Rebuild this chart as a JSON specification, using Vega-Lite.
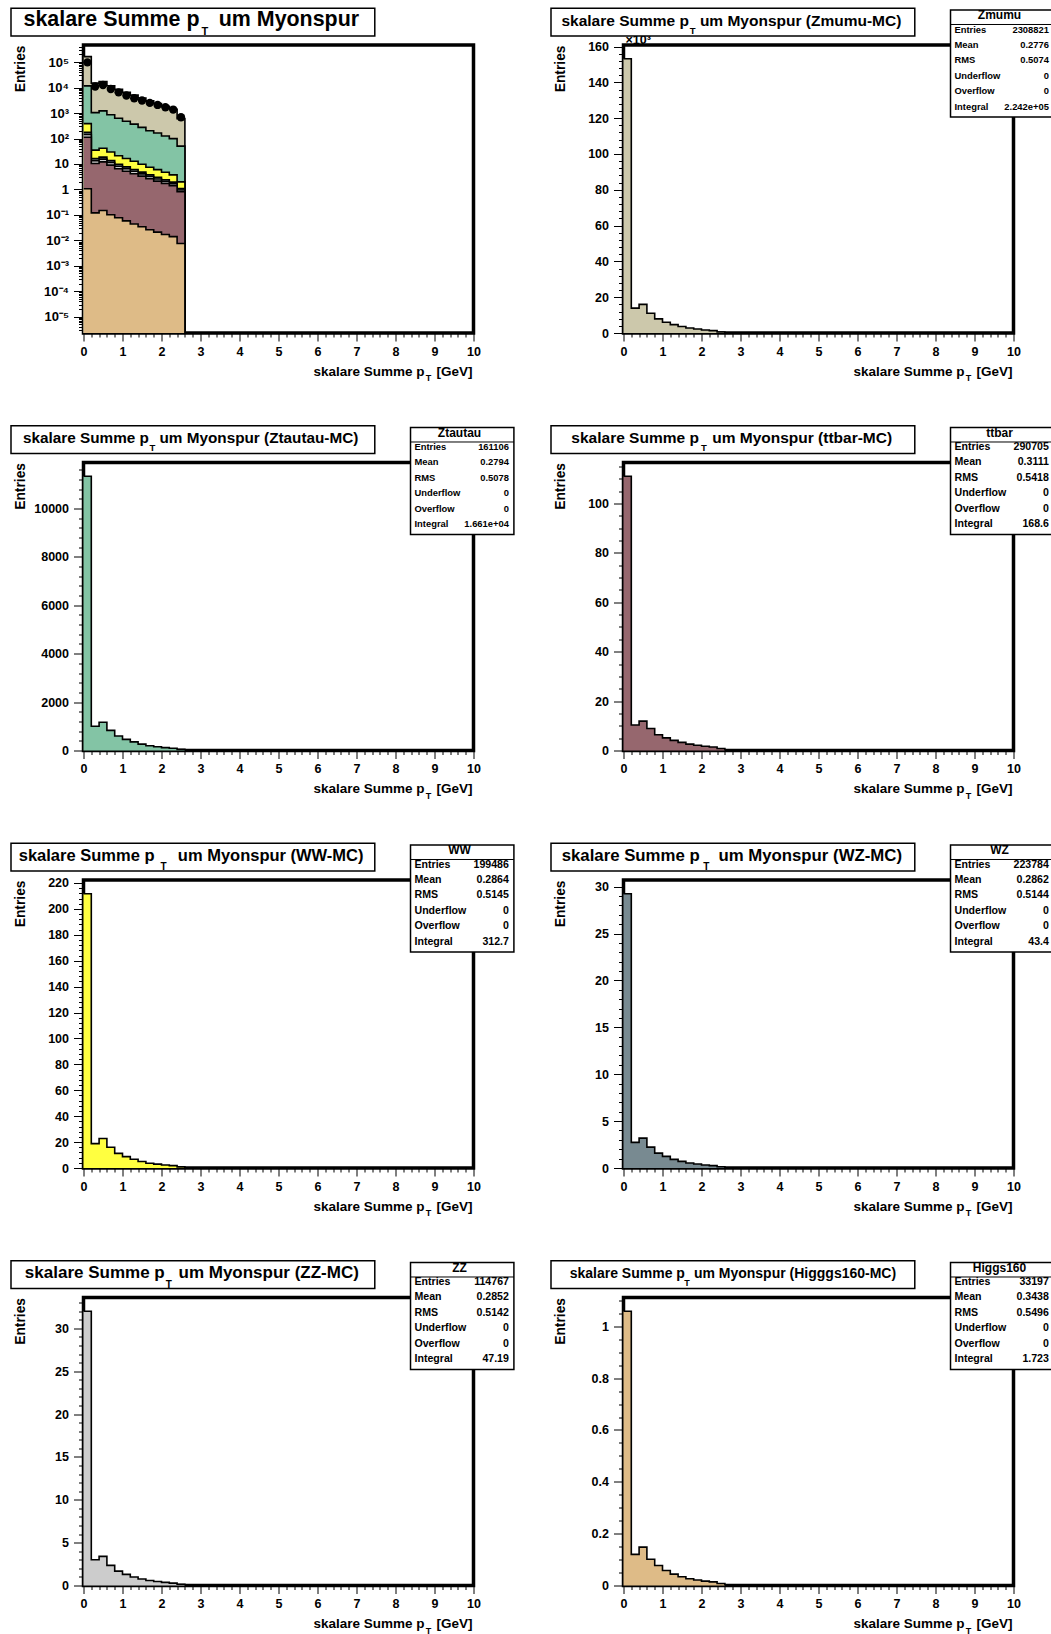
{
"$schema":"https://vega.github.io/schema/vega-lite/v6.json",
"background":"white",
"padding":{"left":7.5,"top":5,"right":0,"bottom":0},
"columns":2,
"spacing":{"row":129.5,"column":150},
"bounds":"flush",
"config":{
 "view":{"stroke":"black","strokeWidth":3.5},
 "axis":{"domain":false,"grid":false,"tickColor":"black","tickWidth":1,"labelColor":"black","labelFont":"Liberation Sans","labelFontWeight":"bold","labelFontSize":12.5,"labelOverlap":false,"labelFlush":false,"labelBound":false,"titleColor":"black","titleFont":"Liberation Sans","titleFontWeight":"bold","titleFontSize":13.8},
 "text":{"font":"Liberation Sans","fontWeight":"bold","color":"black","baseline":"alphabetic"}
},
"datasets":{
 "h":[
  {"p":"Zmumu","lo":0,"n":153200},{"p":"Zmumu","lo":0.2,"n":13900},{"p":"Zmumu","lo":0.4,"n":16000},{"p":"Zmumu","lo":0.6,"n":11000},{"p":"Zmumu","lo":0.8,"n":7900},{"p":"Zmumu","lo":1,"n":6000},{"p":"Zmumu","lo":1.2,"n":4700},{"p":"Zmumu","lo":1.4,"n":3600},{"p":"Zmumu","lo":1.6,"n":2800},{"p":"Zmumu","lo":1.8,"n":2200},{"p":"Zmumu","lo":2,"n":1700},{"p":"Zmumu","lo":2.2,"n":1300},{"p":"Zmumu","lo":2.4,"n":550},{"p":"Zmumu","lo":2.6,"n":0},
  {"p":"Ztautau","lo":0,"n":11330},{"p":"Ztautau","lo":0.2,"n":1000},{"p":"Ztautau","lo":0.4,"n":1170},{"p":"Ztautau","lo":0.6,"n":830},{"p":"Ztautau","lo":0.8,"n":600},{"p":"Ztautau","lo":1,"n":460},{"p":"Ztautau","lo":1.2,"n":355},{"p":"Ztautau","lo":1.4,"n":265},{"p":"Ztautau","lo":1.6,"n":195},{"p":"Ztautau","lo":1.8,"n":158},{"p":"Ztautau","lo":2,"n":120},{"p":"Ztautau","lo":2.2,"n":95},{"p":"Ztautau","lo":2.4,"n":48},{"p":"Ztautau","lo":2.6,"n":0},
  {"p":"ttbar","lo":0,"n":111.0},{"p":"ttbar","lo":0.2,"n":10.3},{"p":"ttbar","lo":0.4,"n":11.9},{"p":"ttbar","lo":0.6,"n":8.9},{"p":"ttbar","lo":0.8,"n":6.4},{"p":"ttbar","lo":1,"n":5.1},{"p":"ttbar","lo":1.2,"n":4.1},{"p":"ttbar","lo":1.4,"n":3.3},{"p":"ttbar","lo":1.6,"n":2.6},{"p":"ttbar","lo":1.8,"n":2.1},{"p":"ttbar","lo":2,"n":1.7},{"p":"ttbar","lo":2.2,"n":1.4},{"p":"ttbar","lo":2.4,"n":0.8},{"p":"ttbar","lo":2.6,"n":0},
  {"p":"WW","lo":0,"n":211.7},{"p":"WW","lo":0.2,"n":18.8},{"p":"WW","lo":0.4,"n":22.8},{"p":"WW","lo":0.6,"n":16.0},{"p":"WW","lo":0.8,"n":11.3},{"p":"WW","lo":1,"n":8.8},{"p":"WW","lo":1.2,"n":6.7},{"p":"WW","lo":1.4,"n":5.0},{"p":"WW","lo":1.6,"n":3.7},{"p":"WW","lo":1.8,"n":3.0},{"p":"WW","lo":2,"n":2.3},{"p":"WW","lo":2.2,"n":1.8},{"p":"WW","lo":2.4,"n":0.9},{"p":"WW","lo":2.6,"n":0},
  {"p":"WZ","lo":0,"n":29.25},{"p":"WZ","lo":0.2,"n":2.73},{"p":"WZ","lo":0.4,"n":3.19},{"p":"WZ","lo":0.6,"n":2.23},{"p":"WZ","lo":0.8,"n":1.59},{"p":"WZ","lo":1,"n":1.24},{"p":"WZ","lo":1.2,"n":0.92},{"p":"WZ","lo":1.4,"n":0.71},{"p":"WZ","lo":1.6,"n":0.53},{"p":"WZ","lo":1.8,"n":0.43},{"p":"WZ","lo":2,"n":0.32},{"p":"WZ","lo":2.2,"n":0.25},{"p":"WZ","lo":2.4,"n":0.13},{"p":"WZ","lo":2.6,"n":0},
  {"p":"ZZ","lo":0,"n":32.0},{"p":"ZZ","lo":0.2,"n":3.0},{"p":"ZZ","lo":0.4,"n":3.4},{"p":"ZZ","lo":0.6,"n":2.35},{"p":"ZZ","lo":0.8,"n":1.68},{"p":"ZZ","lo":1,"n":1.3},{"p":"ZZ","lo":1.2,"n":1.0},{"p":"ZZ","lo":1.4,"n":0.75},{"p":"ZZ","lo":1.6,"n":0.58},{"p":"ZZ","lo":1.8,"n":0.46},{"p":"ZZ","lo":2,"n":0.36},{"p":"ZZ","lo":2.2,"n":0.28},{"p":"ZZ","lo":2.4,"n":0.14},{"p":"ZZ","lo":2.6,"n":0},
  {"p":"Higgs160","lo":0,"n":1.058},{"p":"Higgs160","lo":0.2,"n":0.12},{"p":"Higgs160","lo":0.4,"n":0.148},{"p":"Higgs160","lo":0.6,"n":0.101},{"p":"Higgs160","lo":0.8,"n":0.077},{"p":"Higgs160","lo":1,"n":0.058},{"p":"Higgs160","lo":1.2,"n":0.044},{"p":"Higgs160","lo":1.4,"n":0.034},{"p":"Higgs160","lo":1.6,"n":0.026},{"p":"Higgs160","lo":1.8,"n":0.021},{"p":"Higgs160","lo":2,"n":0.017},{"p":"Higgs160","lo":2.2,"n":0.014},{"p":"Higgs160","lo":2.4,"n":0.0075},{"p":"Higgs160","lo":2.6,"n":0}
 ],
 "d":[
  {"pt":0.1,"n":98000},{"pt":0.3,"n":11000},{"pt":0.5,"n":12600},{"pt":0.7,"n":8800},{"pt":0.9,"n":6500},{"pt":1.1,"n":4900},{"pt":1.3,"n":3800},{"pt":1.5,"n":3100},{"pt":1.7,"n":2500},{"pt":1.9,"n":2080},{"pt":2.1,"n":1690},{"pt":2.3,"n":1370},{"pt":2.5,"n":684}
 ],
 "s":[
  {"p":"Stack","t2":"um Myonspur","v":""},
  {"p":"Zmumu","t2":"um Myonspur (Zmumu-MC)","v":"2308821\n0.2776\n0.5074\n0\n0\n2.242e+05"},
  {"p":"Ztautau","t2":"um Myonspur (Ztautau-MC)","v":"161106\n0.2794\n0.5078\n0\n0\n1.661e+04"},
  {"p":"ttbar","t2":"um Myonspur (ttbar-MC)","v":"290705\n0.3111\n0.5418\n0\n0\n168.6"},
  {"p":"WW","t2":"um Myonspur (WW-MC)","v":"199486\n0.2864\n0.5145\n0\n0\n312.7"},
  {"p":"WZ","t2":"um Myonspur (WZ-MC)","v":"223784\n0.2862\n0.5144\n0\n0\n43.4"},
  {"p":"ZZ","t2":"um Myonspur (ZZ-MC)","v":"114767\n0.2852\n0.5142\n0\n0\n47.19"},
  {"p":"Higgs160","t2":"um Myonspur (Higggs160-MC)","v":"33197\n0.3438\n0.5496\n0\n0\n1.723"}
 ]
},
"concat":[
 {
  "width":390,"height":288,
  "layer":[
   {"data":{"name":"h"},"transform":[{"filter":{"field":"p","oneOf":["Zmumu","Ztautau","WW","WZ","ZZ","ttbar","Higgs160"]}},{"aggregate":[{"op":"sum","field":"n","as":"s"}],"groupby":["lo"]}],"mark":{"type":"area","interpolate":"step-after","color":"#ccc8ab","fillOpacity":1,"invalid":"show","clip":true,"line":{"color":"black","strokeWidth":1.6}},
    "encoding":{
     "x":{"field":"lo","type":"quantitative","scale":{"domain":[0,10],"nice":false,"zero":false},"axis":{"title":null,"values":[0,0.2,0.4,0.6,0.8,1,1.2,1.4,1.6,1.8,2,2.2,2.4,2.6,2.8,3,3.2,3.4,3.6,3.8,4,4.2,4.4,4.6,4.8,5,5.2,5.4,5.6,5.8,6,6.2,6.4,6.6,6.8,7,7.2,7.4,7.6,7.8,8,8.2,8.4,8.6,8.8,9,9.2,9.4,9.6,9.8,10],"labelExpr":"abs(datum.value-round(datum.value))<0.001?format(round(datum.value),'d'):''","tickSize":{"condition":{"test":"abs(datum.value-round(datum.value))<0.001","value":8},"value":4},"labelPadding":4}},
     "y":{"field":"s","type":"quantitative","scale":{"type":"log","domain":[2.3e-6,470000],"nice":false,"clamp":true},"axis":{"title":"Entries","titleX":-63,"titleY":0,"titleAngle":270,"titleAlign":"right","titleBaseline":"middle","labelPadding":5,"labelFontSize":13,"tickCount":100,"labelExpr":"abs(log(datum.value)/LN10-round(log(datum.value)/LN10))>0.01?'':round(log(datum.value)/LN10)==0?'1':round(log(datum.value)/LN10)==1?'10':'10'+replace(replace(replace(replace(replace(replace(''+round(log(datum.value)/LN10),'-','⁻'),'1','¹'),'2','²'),'3','³'),'4','⁴'),'5','⁵')","tickSize":{"condition":{"test":"abs(log(datum.value)/LN10-round(log(datum.value)/LN10))<0.01","value":10},"value":5}}}
    }},
   {"data":{"name":"h"},"transform":[{"filter":{"field":"p","oneOf":["Ztautau","WW","WZ","ZZ","ttbar","Higgs160"]}},{"aggregate":[{"op":"sum","field":"n","as":"s"}],"groupby":["lo"]}],"mark":{"type":"area","interpolate":"step-after","color":"#83c4a5","fillOpacity":1,"invalid":"show","clip":true,"line":{"color":"black","strokeWidth":1.6}},
    "encoding":{"x":{"field":"lo","type":"quantitative","scale":{"domain":[0,10],"nice":false,"zero":false},"axis":null},"y":{"field":"s","type":"quantitative","scale":{"type":"log","domain":[2.3e-6,470000],"nice":false,"clamp":true},"axis":null}}},
   {"data":{"name":"h"},"transform":[{"filter":{"field":"p","oneOf":["WW","WZ","ZZ","ttbar","Higgs160"]}},{"aggregate":[{"op":"sum","field":"n","as":"s"}],"groupby":["lo"]}],"mark":{"type":"area","interpolate":"step-after","color":"#ffff40","fillOpacity":1,"invalid":"show","clip":true,"line":{"color":"black","strokeWidth":1.6}},
    "encoding":{"x":{"field":"lo","type":"quantitative","scale":{"domain":[0,10],"nice":false,"zero":false},"axis":null},"y":{"field":"s","type":"quantitative","scale":{"type":"log","domain":[2.3e-6,470000],"nice":false,"clamp":true},"axis":null}}},
   {"data":{"name":"h"},"transform":[{"filter":{"field":"p","oneOf":["WZ","ZZ","ttbar","Higgs160"]}},{"aggregate":[{"op":"sum","field":"n","as":"s"}],"groupby":["lo"]}],"mark":{"type":"area","interpolate":"step-after","color":"#788a91","fillOpacity":1,"invalid":"show","clip":true,"line":{"color":"black","strokeWidth":1.6}},
    "encoding":{"x":{"field":"lo","type":"quantitative","scale":{"domain":[0,10],"nice":false,"zero":false},"axis":null},"y":{"field":"s","type":"quantitative","scale":{"type":"log","domain":[2.3e-6,470000],"nice":false,"clamp":true},"axis":null}}},
   {"data":{"name":"h"},"transform":[{"filter":{"field":"p","oneOf":["ZZ","ttbar","Higgs160"]}},{"aggregate":[{"op":"sum","field":"n","as":"s"}],"groupby":["lo"]}],"mark":{"type":"area","interpolate":"step-after","color":"#cccccc","fillOpacity":1,"invalid":"show","clip":true,"line":{"color":"black","strokeWidth":1.6}},
    "encoding":{"x":{"field":"lo","type":"quantitative","scale":{"domain":[0,10],"nice":false,"zero":false},"axis":null},"y":{"field":"s","type":"quantitative","scale":{"type":"log","domain":[2.3e-6,470000],"nice":false,"clamp":true},"axis":null}}},
   {"data":{"name":"h"},"transform":[{"filter":{"field":"p","oneOf":["ttbar","Higgs160"]}},{"aggregate":[{"op":"sum","field":"n","as":"s"}],"groupby":["lo"]}],"mark":{"type":"area","interpolate":"step-after","color":"#96676e","fillOpacity":1,"invalid":"show","clip":true,"line":{"color":"black","strokeWidth":1.6}},
    "encoding":{"x":{"field":"lo","type":"quantitative","scale":{"domain":[0,10],"nice":false,"zero":false},"axis":null},"y":{"field":"s","type":"quantitative","scale":{"type":"log","domain":[2.3e-6,470000],"nice":false,"clamp":true},"axis":null}}},
   {"data":{"name":"h"},"transform":[{"filter":{"field":"p","oneOf":["Higgs160"]}},{"aggregate":[{"op":"sum","field":"n","as":"s"}],"groupby":["lo"]}],"mark":{"type":"area","interpolate":"step-after","color":"#debb87","fillOpacity":1,"invalid":"show","clip":true,"line":{"color":"black","strokeWidth":1.6}},
    "encoding":{"x":{"field":"lo","type":"quantitative","scale":{"domain":[0,10],"nice":false,"zero":false},"axis":null},"y":{"field":"s","type":"quantitative","scale":{"type":"log","domain":[2.3e-6,470000],"nice":false,"clamp":true},"axis":null}}},
   {"data":{"name":"d"},"mark":{"type":"point","filled":true,"color":"black","size":70,"opacity":1},
    "encoding":{"x":{"field":"pt","type":"quantitative","axis":null,"scale":{"domain":[0,10],"nice":false,"zero":false}},"y":{"field":"n","type":"quantitative","axis":null,"scale":{"type":"log","domain":[2.3e-6,470000],"nice":false,"clamp":true}}}},
   {
    "data":{"name":"s"},"transform":[{"filter":{"field":"p","equal":"Stack"}}],
    "layer":[
     {"mark":{"type":"rect","fill":"white","stroke":"black","strokeWidth":1.5},"encoding":{"x":{"datum":-0.1859,"type":"quantitative","scale":{"domain":[0,1]},"axis":null},"x2":{"datum":0.7469},"y":{"datum":1.1278,"type":"quantitative","scale":{"domain":[0,1]},"axis":null},"y2":{"datum":1.0309}}},
     {"mark":{"type":"text","align":"right","fontSize":21.4},"encoding":{"x":{"datum":0.2974,"type":"quantitative","scale":{"domain":[0,1]},"axis":null},"y":{"datum":1.066,"type":"quantitative","scale":{"domain":[0,1]},"axis":null},"text":{"value":"skalare Summe p"}}},
     {"mark":{"type":"text","align":"center","fontSize":11},"encoding":{"x":{"datum":0.311,"type":"quantitative","scale":{"domain":[0,1]},"axis":null},"y":{"datum":1.0347,"type":"quantitative","scale":{"domain":[0,1]},"axis":null},"text":{"value":"T"}}},
     {"mark":{"type":"text","align":"left","fontSize":21.4},"encoding":{"x":{"datum":0.3469,"type":"quantitative","scale":{"domain":[0,1]},"axis":null},"y":{"datum":1.066,"type":"quantitative","scale":{"domain":[0,1]},"axis":null},"text":{"field":"t2"}}},
     {"mark":{"type":"text","align":"right","fontSize":13.5},"encoding":{"x":{"datum":0.8744,"type":"quantitative","scale":{"domain":[0,1]},"axis":null},"y":{"datum":-0.1493,"type":"quantitative","scale":{"domain":[0,1]},"axis":null},"text":{"value":"skalare Summe p"}}},
     {"mark":{"type":"text","align":"center","fontSize":9},"encoding":{"x":{"datum":0.8846,"type":"quantitative","scale":{"domain":[0,1]},"axis":null},"y":{"datum":-0.1677,"type":"quantitative","scale":{"domain":[0,1]},"axis":null},"text":{"value":"T"}}},
     {"mark":{"type":"text","align":"right","fontSize":13.5},"encoding":{"x":{"datum":0.9974,"type":"quantitative","scale":{"domain":[0,1]},"axis":null},"y":{"datum":-0.1493,"type":"quantitative","scale":{"domain":[0,1]},"axis":null},"text":{"value":"[GeV]"}}}
    ]
   }
  ],
  "resolve":{"scale":{"x":"independent","y":"independent"}}
 },
 {
  "width":390,"height":288,
  "layer":[
   {"data":{"name":"h"},"transform":[{"filter":{"field":"p","equal":"Zmumu"}}],"mark":{"type":"area","interpolate":"step-after","color":"#ccc8ab","fillOpacity":1,"line":{"color":"black","strokeWidth":1.6}},
    "encoding":{
     "x":{"field":"lo","type":"quantitative","scale":{"domain":[0,10],"nice":false,"zero":false},"axis":{"title":null,"values":[0,0.2,0.4,0.6,0.8,1,1.2,1.4,1.6,1.8,2,2.2,2.4,2.6,2.8,3,3.2,3.4,3.6,3.8,4,4.2,4.4,4.6,4.8,5,5.2,5.4,5.6,5.8,6,6.2,6.4,6.6,6.8,7,7.2,7.4,7.6,7.8,8,8.2,8.4,8.6,8.8,9,9.2,9.4,9.6,9.8,10],"labelExpr":"abs(datum.value-round(datum.value))<0.001?format(round(datum.value),'d'):''","tickSize":{"condition":{"test":"abs(datum.value-round(datum.value))<0.001","value":8},"value":4},"labelPadding":4}},
     "y":{"field":"n","type":"quantitative","scale":{"domain":[0,160860],"nice":false},"axis":{"title":"Entries","titleX":-63,"titleY":0,"titleAngle":270,"titleAlign":"right","titleBaseline":"middle","labelPadding":5,"values":[0,4000,8000,12000,16000,20000,24000,28000,32000,36000,40000,44000,48000,52000,56000,60000,64000,68000,72000,76000,80000,84000,88000,92000,96000,100000,104000,108000,112000,116000,120000,124000,128000,132000,136000,140000,144000,148000,152000,156000,160000],"labelExpr":"datum.value%20000==0?format(datum.value/1000,'d'):''","tickSize":{"condition":{"test":"datum.value%20000==0","value":10},"value":5}}}
    }
   },
   {
    "data":{"name":"s"},"transform":[{"filter":{"field":"p","equal":"Zmumu"}}],
    "layer":[
     {"mark":{"type":"text","align":"left","fontSize":12.5},"encoding":{"x":{"datum":0.005,"type":"quantitative","scale":{"domain":[0,1]},"axis":null},"y":{"datum":1.002,"type":"quantitative","scale":{"domain":[0,1]},"axis":null},"text":{"value":"×10³"}}},
     {"mark":{"type":"rect","fill":"white","stroke":"black","strokeWidth":1.5},"encoding":{"x":{"datum":-0.1859,"type":"quantitative","scale":{"domain":[0,1]},"axis":null},"x2":{"datum":0.7469},"y":{"datum":1.1278,"type":"quantitative","scale":{"domain":[0,1]},"axis":null},"y2":{"datum":1.0309}}},
     {"mark":{"type":"text","align":"right","fontSize":15.5},"encoding":{"x":{"datum":0.1677,"type":"quantitative","scale":{"domain":[0,1]},"axis":null},"y":{"datum":1.066,"type":"quantitative","scale":{"domain":[0,1]},"axis":null},"text":{"value":"skalare Summe p"}}},
     {"mark":{"type":"text","align":"center","fontSize":9.5},"encoding":{"x":{"datum":0.1774,"type":"quantitative","scale":{"domain":[0,1]},"axis":null},"y":{"datum":1.0382,"type":"quantitative","scale":{"domain":[0,1]},"axis":null},"text":{"value":"T"}}},
     {"mark":{"type":"text","align":"left","fontSize":15.5},"encoding":{"x":{"datum":0.1959,"type":"quantitative","scale":{"domain":[0,1]},"axis":null},"y":{"datum":1.066,"type":"quantitative","scale":{"domain":[0,1]},"axis":null},"text":{"field":"t2"}}},
     {"mark":{"type":"rect","fill":"white","stroke":"black","strokeWidth":1.5},"encoding":{"x":{"datum":0.8385,"type":"quantitative","scale":{"domain":[0,1]},"axis":null},"x2":{"datum":1.1036},"y":{"datum":1.1215,"type":"quantitative","scale":{"domain":[0,1]},"axis":null},"y2":{"datum":0.75}}},
     {"mark":{"type":"rule","color":"black","strokeWidth":1},"encoding":{"x":{"datum":0.8385,"type":"quantitative","scale":{"domain":[0,1]},"axis":null},"x2":{"datum":1.1036},"y":{"datum":1.0712,"type":"quantitative","scale":{"domain":[0,1]},"axis":null}}},
     {"mark":{"type":"text","align":"center","baseline":"middle","fontSize":12},"encoding":{"x":{"datum":0.9641,"type":"quantitative","scale":{"domain":[0,1]},"axis":null},"y":{"datum":1.1032,"type":"quantitative","scale":{"domain":[0,1]},"axis":null},"text":{"field":"p"}}},
     {"mark":{"type":"text","align":"left","baseline":"middle","fontSize":9.4,"lineBreak":"\n","lineHeight":15.4},"encoding":{"x":{"datum":0.8487,"type":"quantitative","scale":{"domain":[0,1]},"axis":null},"y":{"datum":1.0535,"type":"quantitative","scale":{"domain":[0,1]},"axis":null},"text":{"value":"Entries\nMean\nRMS\nUnderflow\nOverflow\nIntegral"}}},
     {"mark":{"type":"text","align":"right","baseline":"middle","fontSize":9.4,"lineBreak":"\n","lineHeight":15.4},"encoding":{"x":{"datum":1.0908,"type":"quantitative","scale":{"domain":[0,1]},"axis":null},"y":{"datum":1.0535,"type":"quantitative","scale":{"domain":[0,1]},"axis":null},"text":{"field":"v"}}},
     {"mark":{"type":"text","align":"right","fontSize":13.5},"encoding":{"x":{"datum":0.8744,"type":"quantitative","scale":{"domain":[0,1]},"axis":null},"y":{"datum":-0.1493,"type":"quantitative","scale":{"domain":[0,1]},"axis":null},"text":{"value":"skalare Summe p"}}},
     {"mark":{"type":"text","align":"center","fontSize":9},"encoding":{"x":{"datum":0.8846,"type":"quantitative","scale":{"domain":[0,1]},"axis":null},"y":{"datum":-0.1677,"type":"quantitative","scale":{"domain":[0,1]},"axis":null},"text":{"value":"T"}}},
     {"mark":{"type":"text","align":"right","fontSize":13.5},"encoding":{"x":{"datum":0.9974,"type":"quantitative","scale":{"domain":[0,1]},"axis":null},"y":{"datum":-0.1493,"type":"quantitative","scale":{"domain":[0,1]},"axis":null},"text":{"value":"[GeV]"}}}
    ]
   }
  ],
  "resolve":{"scale":{"x":"independent","y":"independent"}}
 },
 {
  "width":390,"height":288,
  "layer":[
   {"data":{"name":"h"},"transform":[{"filter":{"field":"p","equal":"Ztautau"}}],"mark":{"type":"area","interpolate":"step-after","color":"#83c4a5","fillOpacity":1,"line":{"color":"black","strokeWidth":1.6}},
    "encoding":{
     "x":{"field":"lo","type":"quantitative","scale":{"domain":[0,10],"nice":false,"zero":false},"axis":{"title":null,"values":[0,0.2,0.4,0.6,0.8,1,1.2,1.4,1.6,1.8,2,2.2,2.4,2.6,2.8,3,3.2,3.4,3.6,3.8,4,4.2,4.4,4.6,4.8,5,5.2,5.4,5.6,5.8,6,6.2,6.4,6.6,6.8,7,7.2,7.4,7.6,7.8,8,8.2,8.4,8.6,8.8,9,9.2,9.4,9.6,9.8,10],"labelExpr":"abs(datum.value-round(datum.value))<0.001?format(round(datum.value),'d'):''","tickSize":{"condition":{"test":"abs(datum.value-round(datum.value))<0.001","value":8},"value":4},"labelPadding":4}},
     "y":{"field":"n","type":"quantitative","scale":{"domain":[0,11896],"nice":false},"axis":{"title":"Entries","titleX":-63,"titleY":0,"titleAngle":270,"titleAlign":"right","titleBaseline":"middle","labelPadding":5,"values":[0,400,800,1200,1600,2000,2400,2800,3200,3600,4000,4400,4800,5200,5600,6000,6400,6800,7200,7600,8000,8400,8800,9200,9600,10000,10400,10800,11200,11600],"labelExpr":"datum.value%2000==0?format(datum.value,'d'):''","tickSize":{"condition":{"test":"datum.value%2000==0","value":10},"value":5}}}
    }
   },
   {
    "data":{"name":"s"},"transform":[{"filter":{"field":"p","equal":"Ztautau"}}],
    "layer":[
     {"mark":{"type":"rect","fill":"white","stroke":"black","strokeWidth":1.5},"encoding":{"x":{"datum":-0.1859,"type":"quantitative","scale":{"domain":[0,1]},"axis":null},"x2":{"datum":0.7469},"y":{"datum":1.1278,"type":"quantitative","scale":{"domain":[0,1]},"axis":null},"y2":{"datum":1.0309}}},
     {"mark":{"type":"text","align":"right","fontSize":15.3},"encoding":{"x":{"datum":0.1677,"type":"quantitative","scale":{"domain":[0,1]},"axis":null},"y":{"datum":1.066,"type":"quantitative","scale":{"domain":[0,1]},"axis":null},"text":{"value":"skalare Summe p"}}},
     {"mark":{"type":"text","align":"center","fontSize":9.5},"encoding":{"x":{"datum":0.1769,"type":"quantitative","scale":{"domain":[0,1]},"axis":null},"y":{"datum":1.0382,"type":"quantitative","scale":{"domain":[0,1]},"axis":null},"text":{"value":"T"}}},
     {"mark":{"type":"text","align":"left","fontSize":15.3},"encoding":{"x":{"datum":0.1949,"type":"quantitative","scale":{"domain":[0,1]},"axis":null},"y":{"datum":1.066,"type":"quantitative","scale":{"domain":[0,1]},"axis":null},"text":{"field":"t2"}}},
     {"mark":{"type":"rect","fill":"white","stroke":"black","strokeWidth":1.5},"encoding":{"x":{"datum":0.8385,"type":"quantitative","scale":{"domain":[0,1]},"axis":null},"x2":{"datum":1.1036},"y":{"datum":1.1215,"type":"quantitative","scale":{"domain":[0,1]},"axis":null},"y2":{"datum":0.75}}},
     {"mark":{"type":"rule","color":"black","strokeWidth":1},"encoding":{"x":{"datum":0.8385,"type":"quantitative","scale":{"domain":[0,1]},"axis":null},"x2":{"datum":1.1036},"y":{"datum":1.0712,"type":"quantitative","scale":{"domain":[0,1]},"axis":null}}},
     {"mark":{"type":"text","align":"center","baseline":"middle","fontSize":12},"encoding":{"x":{"datum":0.9641,"type":"quantitative","scale":{"domain":[0,1]},"axis":null},"y":{"datum":1.1032,"type":"quantitative","scale":{"domain":[0,1]},"axis":null},"text":{"field":"p"}}},
     {"mark":{"type":"text","align":"left","baseline":"middle","fontSize":9.4,"lineBreak":"\n","lineHeight":15.4},"encoding":{"x":{"datum":0.8487,"type":"quantitative","scale":{"domain":[0,1]},"axis":null},"y":{"datum":1.0535,"type":"quantitative","scale":{"domain":[0,1]},"axis":null},"text":{"value":"Entries\nMean\nRMS\nUnderflow\nOverflow\nIntegral"}}},
     {"mark":{"type":"text","align":"right","baseline":"middle","fontSize":9.4,"lineBreak":"\n","lineHeight":15.4},"encoding":{"x":{"datum":1.0908,"type":"quantitative","scale":{"domain":[0,1]},"axis":null},"y":{"datum":1.0535,"type":"quantitative","scale":{"domain":[0,1]},"axis":null},"text":{"field":"v"}}},
     {"mark":{"type":"text","align":"right","fontSize":13.5},"encoding":{"x":{"datum":0.8744,"type":"quantitative","scale":{"domain":[0,1]},"axis":null},"y":{"datum":-0.1493,"type":"quantitative","scale":{"domain":[0,1]},"axis":null},"text":{"value":"skalare Summe p"}}},
     {"mark":{"type":"text","align":"center","fontSize":9},"encoding":{"x":{"datum":0.8846,"type":"quantitative","scale":{"domain":[0,1]},"axis":null},"y":{"datum":-0.1677,"type":"quantitative","scale":{"domain":[0,1]},"axis":null},"text":{"value":"T"}}},
     {"mark":{"type":"text","align":"right","fontSize":13.5},"encoding":{"x":{"datum":0.9974,"type":"quantitative","scale":{"domain":[0,1]},"axis":null},"y":{"datum":-0.1493,"type":"quantitative","scale":{"domain":[0,1]},"axis":null},"text":{"value":"[GeV]"}}}
    ]
   }
  ],
  "resolve":{"scale":{"x":"independent","y":"independent"}}
 },
 {
  "width":390,"height":288,
  "layer":[
   {"data":{"name":"h"},"transform":[{"filter":{"field":"p","equal":"ttbar"}}],"mark":{"type":"area","interpolate":"step-after","color":"#96676e","fillOpacity":1,"line":{"color":"black","strokeWidth":1.6}},
    "encoding":{
     "x":{"field":"lo","type":"quantitative","scale":{"domain":[0,10],"nice":false,"zero":false},"axis":{"title":null,"values":[0,0.2,0.4,0.6,0.8,1,1.2,1.4,1.6,1.8,2,2.2,2.4,2.6,2.8,3,3.2,3.4,3.6,3.8,4,4.2,4.4,4.6,4.8,5,5.2,5.4,5.6,5.8,6,6.2,6.4,6.6,6.8,7,7.2,7.4,7.6,7.8,8,8.2,8.4,8.6,8.8,9,9.2,9.4,9.6,9.8,10],"labelExpr":"abs(datum.value-round(datum.value))<0.001?format(round(datum.value),'d'):''","tickSize":{"condition":{"test":"abs(datum.value-round(datum.value))<0.001","value":8},"value":4},"labelPadding":4}},
     "y":{"field":"n","type":"quantitative","scale":{"domain":[0,116.55],"nice":false},"axis":{"title":"Entries","titleX":-63,"titleY":0,"titleAngle":270,"titleAlign":"right","titleBaseline":"middle","labelPadding":5,"values":[0,5,10,15,20,25,30,35,40,45,50,55,60,65,70,75,80,85,90,95,100,105,110,115],"labelExpr":"datum.value%20==0?format(datum.value,'d'):''","tickSize":{"condition":{"test":"datum.value%20==0","value":10},"value":5}}}
    }
   },
   {
    "data":{"name":"s"},"transform":[{"filter":{"field":"p","equal":"ttbar"}}],
    "layer":[
     {"mark":{"type":"rect","fill":"white","stroke":"black","strokeWidth":1.5},"encoding":{"x":{"datum":-0.1859,"type":"quantitative","scale":{"domain":[0,1]},"axis":null},"x2":{"datum":0.7469},"y":{"datum":1.1278,"type":"quantitative","scale":{"domain":[0,1]},"axis":null},"y2":{"datum":1.0309}}},
     {"mark":{"type":"text","align":"right","fontSize":15.5},"encoding":{"x":{"datum":0.1933,"type":"quantitative","scale":{"domain":[0,1]},"axis":null},"y":{"datum":1.066,"type":"quantitative","scale":{"domain":[0,1]},"axis":null},"text":{"value":"skalare Summe p"}}},
     {"mark":{"type":"text","align":"center","fontSize":9.5},"encoding":{"x":{"datum":0.2062,"type":"quantitative","scale":{"domain":[0,1]},"axis":null},"y":{"datum":1.0382,"type":"quantitative","scale":{"domain":[0,1]},"axis":null},"text":{"value":"T"}}},
     {"mark":{"type":"text","align":"left","fontSize":15.5},"encoding":{"x":{"datum":0.2274,"type":"quantitative","scale":{"domain":[0,1]},"axis":null},"y":{"datum":1.066,"type":"quantitative","scale":{"domain":[0,1]},"axis":null},"text":{"field":"t2"}}},
     {"mark":{"type":"rect","fill":"white","stroke":"black","strokeWidth":1.5},"encoding":{"x":{"datum":0.8385,"type":"quantitative","scale":{"domain":[0,1]},"axis":null},"x2":{"datum":1.1036},"y":{"datum":1.1215,"type":"quantitative","scale":{"domain":[0,1]},"axis":null},"y2":{"datum":0.75}}},
     {"mark":{"type":"rule","color":"black","strokeWidth":1},"encoding":{"x":{"datum":0.8385,"type":"quantitative","scale":{"domain":[0,1]},"axis":null},"x2":{"datum":1.1036},"y":{"datum":1.0712,"type":"quantitative","scale":{"domain":[0,1]},"axis":null}}},
     {"mark":{"type":"text","align":"center","baseline":"middle","fontSize":12},"encoding":{"x":{"datum":0.9641,"type":"quantitative","scale":{"domain":[0,1]},"axis":null},"y":{"datum":1.1032,"type":"quantitative","scale":{"domain":[0,1]},"axis":null},"text":{"field":"p"}}},
     {"mark":{"type":"text","align":"left","baseline":"middle","fontSize":10.6,"lineBreak":"\n","lineHeight":15.4},"encoding":{"x":{"datum":0.8487,"type":"quantitative","scale":{"domain":[0,1]},"axis":null},"y":{"datum":1.0535,"type":"quantitative","scale":{"domain":[0,1]},"axis":null},"text":{"value":"Entries\nMean\nRMS\nUnderflow\nOverflow\nIntegral"}}},
     {"mark":{"type":"text","align":"right","baseline":"middle","fontSize":10.6,"lineBreak":"\n","lineHeight":15.4},"encoding":{"x":{"datum":1.0908,"type":"quantitative","scale":{"domain":[0,1]},"axis":null},"y":{"datum":1.0535,"type":"quantitative","scale":{"domain":[0,1]},"axis":null},"text":{"field":"v"}}},
     {"mark":{"type":"text","align":"right","fontSize":13.5},"encoding":{"x":{"datum":0.8744,"type":"quantitative","scale":{"domain":[0,1]},"axis":null},"y":{"datum":-0.1493,"type":"quantitative","scale":{"domain":[0,1]},"axis":null},"text":{"value":"skalare Summe p"}}},
     {"mark":{"type":"text","align":"center","fontSize":9},"encoding":{"x":{"datum":0.8846,"type":"quantitative","scale":{"domain":[0,1]},"axis":null},"y":{"datum":-0.1677,"type":"quantitative","scale":{"domain":[0,1]},"axis":null},"text":{"value":"T"}}},
     {"mark":{"type":"text","align":"right","fontSize":13.5},"encoding":{"x":{"datum":0.9974,"type":"quantitative","scale":{"domain":[0,1]},"axis":null},"y":{"datum":-0.1493,"type":"quantitative","scale":{"domain":[0,1]},"axis":null},"text":{"value":"[GeV]"}}}
    ]
   }
  ],
  "resolve":{"scale":{"x":"independent","y":"independent"}}
 },
 {
  "width":390,"height":288,
  "layer":[
   {"data":{"name":"h"},"transform":[{"filter":{"field":"p","equal":"WW"}}],"mark":{"type":"area","interpolate":"step-after","color":"#ffff40","fillOpacity":1,"line":{"color":"black","strokeWidth":1.6}},
    "encoding":{
     "x":{"field":"lo","type":"quantitative","scale":{"domain":[0,10],"nice":false,"zero":false},"axis":{"title":null,"values":[0,0.2,0.4,0.6,0.8,1,1.2,1.4,1.6,1.8,2,2.2,2.4,2.6,2.8,3,3.2,3.4,3.6,3.8,4,4.2,4.4,4.6,4.8,5,5.2,5.4,5.6,5.8,6,6.2,6.4,6.6,6.8,7,7.2,7.4,7.6,7.8,8,8.2,8.4,8.6,8.8,9,9.2,9.4,9.6,9.8,10],"labelExpr":"abs(datum.value-round(datum.value))<0.001?format(round(datum.value),'d'):''","tickSize":{"condition":{"test":"abs(datum.value-round(datum.value))<0.001","value":8},"value":4},"labelPadding":4}},
     "y":{"field":"n","type":"quantitative","scale":{"domain":[0,222.3],"nice":false},"axis":{"title":"Entries","titleX":-63,"titleY":0,"titleAngle":270,"titleAlign":"right","titleBaseline":"middle","labelPadding":5,"values":[0,4,8,12,16,20,24,28,32,36,40,44,48,52,56,60,64,68,72,76,80,84,88,92,96,100,104,108,112,116,120,124,128,132,136,140,144,148,152,156,160,164,168,172,176,180,184,188,192,196,200,204,208,212,216,220],"labelExpr":"datum.value%20==0?format(datum.value,'d'):''","tickSize":{"condition":{"test":"datum.value%20==0","value":10},"value":5}}}
    }
   },
   {
    "data":{"name":"s"},"transform":[{"filter":{"field":"p","equal":"WW"}}],
    "layer":[
     {"mark":{"type":"rect","fill":"white","stroke":"black","strokeWidth":1.5},"encoding":{"x":{"datum":-0.1859,"type":"quantitative","scale":{"domain":[0,1]},"axis":null},"x2":{"datum":0.7469},"y":{"datum":1.1278,"type":"quantitative","scale":{"domain":[0,1]},"axis":null},"y2":{"datum":1.0309}}},
     {"mark":{"type":"text","align":"right","fontSize":16.5},"encoding":{"x":{"datum":0.182,"type":"quantitative","scale":{"domain":[0,1]},"axis":null},"y":{"datum":1.066,"type":"quantitative","scale":{"domain":[0,1]},"axis":null},"text":{"value":"skalare Summe p"}}},
     {"mark":{"type":"text","align":"center","fontSize":10},"encoding":{"x":{"datum":0.2051,"type":"quantitative","scale":{"domain":[0,1]},"axis":null},"y":{"datum":1.0347,"type":"quantitative","scale":{"domain":[0,1]},"axis":null},"text":{"value":"T"}}},
     {"mark":{"type":"text","align":"left","fontSize":16.5},"encoding":{"x":{"datum":0.2418,"type":"quantitative","scale":{"domain":[0,1]},"axis":null},"y":{"datum":1.066,"type":"quantitative","scale":{"domain":[0,1]},"axis":null},"text":{"field":"t2"}}},
     {"mark":{"type":"rect","fill":"white","stroke":"black","strokeWidth":1.5},"encoding":{"x":{"datum":0.8385,"type":"quantitative","scale":{"domain":[0,1]},"axis":null},"x2":{"datum":1.1036},"y":{"datum":1.1215,"type":"quantitative","scale":{"domain":[0,1]},"axis":null},"y2":{"datum":0.75}}},
     {"mark":{"type":"rule","color":"black","strokeWidth":1},"encoding":{"x":{"datum":0.8385,"type":"quantitative","scale":{"domain":[0,1]},"axis":null},"x2":{"datum":1.1036},"y":{"datum":1.0712,"type":"quantitative","scale":{"domain":[0,1]},"axis":null}}},
     {"mark":{"type":"text","align":"center","baseline":"middle","fontSize":12},"encoding":{"x":{"datum":0.9641,"type":"quantitative","scale":{"domain":[0,1]},"axis":null},"y":{"datum":1.1032,"type":"quantitative","scale":{"domain":[0,1]},"axis":null},"text":{"field":"p"}}},
     {"mark":{"type":"text","align":"left","baseline":"middle","fontSize":10.6,"lineBreak":"\n","lineHeight":15.4},"encoding":{"x":{"datum":0.8487,"type":"quantitative","scale":{"domain":[0,1]},"axis":null},"y":{"datum":1.0535,"type":"quantitative","scale":{"domain":[0,1]},"axis":null},"text":{"value":"Entries\nMean\nRMS\nUnderflow\nOverflow\nIntegral"}}},
     {"mark":{"type":"text","align":"right","baseline":"middle","fontSize":10.6,"lineBreak":"\n","lineHeight":15.4},"encoding":{"x":{"datum":1.0908,"type":"quantitative","scale":{"domain":[0,1]},"axis":null},"y":{"datum":1.0535,"type":"quantitative","scale":{"domain":[0,1]},"axis":null},"text":{"field":"v"}}},
     {"mark":{"type":"text","align":"right","fontSize":13.5},"encoding":{"x":{"datum":0.8744,"type":"quantitative","scale":{"domain":[0,1]},"axis":null},"y":{"datum":-0.1493,"type":"quantitative","scale":{"domain":[0,1]},"axis":null},"text":{"value":"skalare Summe p"}}},
     {"mark":{"type":"text","align":"center","fontSize":9},"encoding":{"x":{"datum":0.8846,"type":"quantitative","scale":{"domain":[0,1]},"axis":null},"y":{"datum":-0.1677,"type":"quantitative","scale":{"domain":[0,1]},"axis":null},"text":{"value":"T"}}},
     {"mark":{"type":"text","align":"right","fontSize":13.5},"encoding":{"x":{"datum":0.9974,"type":"quantitative","scale":{"domain":[0,1]},"axis":null},"y":{"datum":-0.1493,"type":"quantitative","scale":{"domain":[0,1]},"axis":null},"text":{"value":"[GeV]"}}}
    ]
   }
  ],
  "resolve":{"scale":{"x":"independent","y":"independent"}}
 },
 {
  "width":390,"height":288,
  "layer":[
   {"data":{"name":"h"},"transform":[{"filter":{"field":"p","equal":"WZ"}}],"mark":{"type":"area","interpolate":"step-after","color":"#788a91","fillOpacity":1,"line":{"color":"black","strokeWidth":1.6}},
    "encoding":{
     "x":{"field":"lo","type":"quantitative","scale":{"domain":[0,10],"nice":false,"zero":false},"axis":{"title":null,"values":[0,0.2,0.4,0.6,0.8,1,1.2,1.4,1.6,1.8,2,2.2,2.4,2.6,2.8,3,3.2,3.4,3.6,3.8,4,4.2,4.4,4.6,4.8,5,5.2,5.4,5.6,5.8,6,6.2,6.4,6.6,6.8,7,7.2,7.4,7.6,7.8,8,8.2,8.4,8.6,8.8,9,9.2,9.4,9.6,9.8,10],"labelExpr":"abs(datum.value-round(datum.value))<0.001?format(round(datum.value),'d'):''","tickSize":{"condition":{"test":"abs(datum.value-round(datum.value))<0.001","value":8},"value":4},"labelPadding":4}},
     "y":{"field":"n","type":"quantitative","scale":{"domain":[0,30.71],"nice":false},"axis":{"title":"Entries","titleX":-63,"titleY":0,"titleAngle":270,"titleAlign":"right","titleBaseline":"middle","labelPadding":5,"values":[0,1,2,3,4,5,6,7,8,9,10,11,12,13,14,15,16,17,18,19,20,21,22,23,24,25,26,27,28,29,30],"labelExpr":"datum.value%5==0?format(datum.value,'d'):''","tickSize":{"condition":{"test":"datum.value%5==0","value":10},"value":5}}}
    }
   },
   {
    "data":{"name":"s"},"transform":[{"filter":{"field":"p","equal":"WZ"}}],
    "layer":[
     {"mark":{"type":"rect","fill":"white","stroke":"black","strokeWidth":1.5},"encoding":{"x":{"datum":-0.1859,"type":"quantitative","scale":{"domain":[0,1]},"axis":null},"x2":{"datum":0.7469},"y":{"datum":1.1278,"type":"quantitative","scale":{"domain":[0,1]},"axis":null},"y2":{"datum":1.0309}}},
     {"mark":{"type":"text","align":"right","fontSize":16.8},"encoding":{"x":{"datum":0.1954,"type":"quantitative","scale":{"domain":[0,1]},"axis":null},"y":{"datum":1.066,"type":"quantitative","scale":{"domain":[0,1]},"axis":null},"text":{"value":"skalare Summe p"}}},
     {"mark":{"type":"text","align":"center","fontSize":10},"encoding":{"x":{"datum":0.2121,"type":"quantitative","scale":{"domain":[0,1]},"axis":null},"y":{"datum":1.0347,"type":"quantitative","scale":{"domain":[0,1]},"axis":null},"text":{"value":"T"}}},
     {"mark":{"type":"text","align":"left","fontSize":16.8},"encoding":{"x":{"datum":0.2433,"type":"quantitative","scale":{"domain":[0,1]},"axis":null},"y":{"datum":1.066,"type":"quantitative","scale":{"domain":[0,1]},"axis":null},"text":{"field":"t2"}}},
     {"mark":{"type":"rect","fill":"white","stroke":"black","strokeWidth":1.5},"encoding":{"x":{"datum":0.8385,"type":"quantitative","scale":{"domain":[0,1]},"axis":null},"x2":{"datum":1.1036},"y":{"datum":1.1215,"type":"quantitative","scale":{"domain":[0,1]},"axis":null},"y2":{"datum":0.75}}},
     {"mark":{"type":"rule","color":"black","strokeWidth":1},"encoding":{"x":{"datum":0.8385,"type":"quantitative","scale":{"domain":[0,1]},"axis":null},"x2":{"datum":1.1036},"y":{"datum":1.0712,"type":"quantitative","scale":{"domain":[0,1]},"axis":null}}},
     {"mark":{"type":"text","align":"center","baseline":"middle","fontSize":12},"encoding":{"x":{"datum":0.9641,"type":"quantitative","scale":{"domain":[0,1]},"axis":null},"y":{"datum":1.1032,"type":"quantitative","scale":{"domain":[0,1]},"axis":null},"text":{"field":"p"}}},
     {"mark":{"type":"text","align":"left","baseline":"middle","fontSize":10.6,"lineBreak":"\n","lineHeight":15.4},"encoding":{"x":{"datum":0.8487,"type":"quantitative","scale":{"domain":[0,1]},"axis":null},"y":{"datum":1.0535,"type":"quantitative","scale":{"domain":[0,1]},"axis":null},"text":{"value":"Entries\nMean\nRMS\nUnderflow\nOverflow\nIntegral"}}},
     {"mark":{"type":"text","align":"right","baseline":"middle","fontSize":10.6,"lineBreak":"\n","lineHeight":15.4},"encoding":{"x":{"datum":1.0908,"type":"quantitative","scale":{"domain":[0,1]},"axis":null},"y":{"datum":1.0535,"type":"quantitative","scale":{"domain":[0,1]},"axis":null},"text":{"field":"v"}}},
     {"mark":{"type":"text","align":"right","fontSize":13.5},"encoding":{"x":{"datum":0.8744,"type":"quantitative","scale":{"domain":[0,1]},"axis":null},"y":{"datum":-0.1493,"type":"quantitative","scale":{"domain":[0,1]},"axis":null},"text":{"value":"skalare Summe p"}}},
     {"mark":{"type":"text","align":"center","fontSize":9},"encoding":{"x":{"datum":0.8846,"type":"quantitative","scale":{"domain":[0,1]},"axis":null},"y":{"datum":-0.1677,"type":"quantitative","scale":{"domain":[0,1]},"axis":null},"text":{"value":"T"}}},
     {"mark":{"type":"text","align":"right","fontSize":13.5},"encoding":{"x":{"datum":0.9974,"type":"quantitative","scale":{"domain":[0,1]},"axis":null},"y":{"datum":-0.1493,"type":"quantitative","scale":{"domain":[0,1]},"axis":null},"text":{"value":"[GeV]"}}}
    ]
   }
  ],
  "resolve":{"scale":{"x":"independent","y":"independent"}}
 },
 {
  "width":390,"height":288,
  "layer":[
   {"data":{"name":"h"},"transform":[{"filter":{"field":"p","equal":"ZZ"}}],"mark":{"type":"area","interpolate":"step-after","color":"#cccccc","fillOpacity":1,"line":{"color":"black","strokeWidth":1.6}},
    "encoding":{
     "x":{"field":"lo","type":"quantitative","scale":{"domain":[0,10],"nice":false,"zero":false},"axis":{"title":null,"values":[0,0.2,0.4,0.6,0.8,1,1.2,1.4,1.6,1.8,2,2.2,2.4,2.6,2.8,3,3.2,3.4,3.6,3.8,4,4.2,4.4,4.6,4.8,5,5.2,5.4,5.6,5.8,6,6.2,6.4,6.6,6.8,7,7.2,7.4,7.6,7.8,8,8.2,8.4,8.6,8.8,9,9.2,9.4,9.6,9.8,10],"labelExpr":"abs(datum.value-round(datum.value))<0.001?format(round(datum.value),'d'):''","tickSize":{"condition":{"test":"abs(datum.value-round(datum.value))<0.001","value":8},"value":4},"labelPadding":4}},
     "y":{"field":"n","type":"quantitative","scale":{"domain":[0,33.6],"nice":false},"axis":{"title":"Entries","titleX":-63,"titleY":0,"titleAngle":270,"titleAlign":"right","titleBaseline":"middle","labelPadding":5,"values":[0,1,2,3,4,5,6,7,8,9,10,11,12,13,14,15,16,17,18,19,20,21,22,23,24,25,26,27,28,29,30,31,32,33],"labelExpr":"datum.value%5==0?format(datum.value,'d'):''","tickSize":{"condition":{"test":"datum.value%5==0","value":10},"value":5}}}
    }
   },
   {
    "data":{"name":"s"},"transform":[{"filter":{"field":"p","equal":"ZZ"}}],
    "layer":[
     {"mark":{"type":"rect","fill":"white","stroke":"black","strokeWidth":1.5},"encoding":{"x":{"datum":-0.1859,"type":"quantitative","scale":{"domain":[0,1]},"axis":null},"x2":{"datum":0.7469},"y":{"datum":1.1278,"type":"quantitative","scale":{"domain":[0,1]},"axis":null},"y2":{"datum":1.0309}}},
     {"mark":{"type":"text","align":"right","fontSize":17},"encoding":{"x":{"datum":0.2082,"type":"quantitative","scale":{"domain":[0,1]},"axis":null},"y":{"datum":1.066,"type":"quantitative","scale":{"domain":[0,1]},"axis":null},"text":{"value":"skalare Summe p"}}},
     {"mark":{"type":"text","align":"center","fontSize":10},"encoding":{"x":{"datum":0.219,"type":"quantitative","scale":{"domain":[0,1]},"axis":null},"y":{"datum":1.0347,"type":"quantitative","scale":{"domain":[0,1]},"axis":null},"text":{"value":"T"}}},
     {"mark":{"type":"text","align":"left","fontSize":17},"encoding":{"x":{"datum":0.2436,"type":"quantitative","scale":{"domain":[0,1]},"axis":null},"y":{"datum":1.066,"type":"quantitative","scale":{"domain":[0,1]},"axis":null},"text":{"field":"t2"}}},
     {"mark":{"type":"rect","fill":"white","stroke":"black","strokeWidth":1.5},"encoding":{"x":{"datum":0.8385,"type":"quantitative","scale":{"domain":[0,1]},"axis":null},"x2":{"datum":1.1036},"y":{"datum":1.1215,"type":"quantitative","scale":{"domain":[0,1]},"axis":null},"y2":{"datum":0.75}}},
     {"mark":{"type":"rule","color":"black","strokeWidth":1},"encoding":{"x":{"datum":0.8385,"type":"quantitative","scale":{"domain":[0,1]},"axis":null},"x2":{"datum":1.1036},"y":{"datum":1.0712,"type":"quantitative","scale":{"domain":[0,1]},"axis":null}}},
     {"mark":{"type":"text","align":"center","baseline":"middle","fontSize":12},"encoding":{"x":{"datum":0.9641,"type":"quantitative","scale":{"domain":[0,1]},"axis":null},"y":{"datum":1.1032,"type":"quantitative","scale":{"domain":[0,1]},"axis":null},"text":{"field":"p"}}},
     {"mark":{"type":"text","align":"left","baseline":"middle","fontSize":10.6,"lineBreak":"\n","lineHeight":15.4},"encoding":{"x":{"datum":0.8487,"type":"quantitative","scale":{"domain":[0,1]},"axis":null},"y":{"datum":1.0535,"type":"quantitative","scale":{"domain":[0,1]},"axis":null},"text":{"value":"Entries\nMean\nRMS\nUnderflow\nOverflow\nIntegral"}}},
     {"mark":{"type":"text","align":"right","baseline":"middle","fontSize":10.6,"lineBreak":"\n","lineHeight":15.4},"encoding":{"x":{"datum":1.0908,"type":"quantitative","scale":{"domain":[0,1]},"axis":null},"y":{"datum":1.0535,"type":"quantitative","scale":{"domain":[0,1]},"axis":null},"text":{"field":"v"}}},
     {"mark":{"type":"text","align":"right","fontSize":13.5},"encoding":{"x":{"datum":0.8744,"type":"quantitative","scale":{"domain":[0,1]},"axis":null},"y":{"datum":-0.1493,"type":"quantitative","scale":{"domain":[0,1]},"axis":null},"text":{"value":"skalare Summe p"}}},
     {"mark":{"type":"text","align":"center","fontSize":9},"encoding":{"x":{"datum":0.8846,"type":"quantitative","scale":{"domain":[0,1]},"axis":null},"y":{"datum":-0.1677,"type":"quantitative","scale":{"domain":[0,1]},"axis":null},"text":{"value":"T"}}},
     {"mark":{"type":"text","align":"right","fontSize":13.5},"encoding":{"x":{"datum":0.9974,"type":"quantitative","scale":{"domain":[0,1]},"axis":null},"y":{"datum":-0.1493,"type":"quantitative","scale":{"domain":[0,1]},"axis":null},"text":{"value":"[GeV]"}}}
    ]
   }
  ],
  "resolve":{"scale":{"x":"independent","y":"independent"}}
 },
 {
  "width":390,"height":288,
  "layer":[
   {"data":{"name":"h"},"transform":[{"filter":{"field":"p","equal":"Higgs160"}}],"mark":{"type":"area","interpolate":"step-after","color":"#debb87","fillOpacity":1,"line":{"color":"black","strokeWidth":1.6}},
    "encoding":{
     "x":{"field":"lo","type":"quantitative","scale":{"domain":[0,10],"nice":false,"zero":false},"axis":{"title":null,"values":[0,0.2,0.4,0.6,0.8,1,1.2,1.4,1.6,1.8,2,2.2,2.4,2.6,2.8,3,3.2,3.4,3.6,3.8,4,4.2,4.4,4.6,4.8,5,5.2,5.4,5.6,5.8,6,6.2,6.4,6.6,6.8,7,7.2,7.4,7.6,7.8,8,8.2,8.4,8.6,8.8,9,9.2,9.4,9.6,9.8,10],"labelExpr":"abs(datum.value-round(datum.value))<0.001?format(round(datum.value),'d'):''","tickSize":{"condition":{"test":"abs(datum.value-round(datum.value))<0.001","value":8},"value":4},"labelPadding":4}},
     "y":{"field":"n","type":"quantitative","scale":{"domain":[0,1.111],"nice":false},"axis":{"title":"Entries","titleX":-63,"titleY":0,"titleAngle":270,"titleAlign":"right","titleBaseline":"middle","labelPadding":5,"values":[0,0.05,0.1,0.15,0.2,0.25,0.3,0.35,0.4,0.45,0.5,0.55,0.6,0.65,0.7,0.75,0.8,0.85,0.9,0.95,1,1.05,1.1],"labelExpr":"abs(datum.value*5-round(datum.value*5))<0.001?format(datum.value,'~g'):''","tickSize":{"condition":{"test":"abs(datum.value*5-round(datum.value*5))<0.001","value":10},"value":5}}}
    }
   },
   {
    "data":{"name":"s"},"transform":[{"filter":{"field":"p","equal":"Higgs160"}}],
    "layer":[
     {"mark":{"type":"rect","fill":"white","stroke":"black","strokeWidth":1.5},"encoding":{"x":{"datum":-0.1859,"type":"quantitative","scale":{"domain":[0,1]},"axis":null},"x2":{"datum":0.7469},"y":{"datum":1.1278,"type":"quantitative","scale":{"domain":[0,1]},"axis":null},"y2":{"datum":1.0309}}},
     {"mark":{"type":"text","align":"right","fontSize":14},"encoding":{"x":{"datum":0.1574,"type":"quantitative","scale":{"domain":[0,1]},"axis":null},"y":{"datum":1.066,"type":"quantitative","scale":{"domain":[0,1]},"axis":null},"text":{"value":"skalare Summe p"}}},
     {"mark":{"type":"text","align":"center","fontSize":9},"encoding":{"x":{"datum":0.1626,"type":"quantitative","scale":{"domain":[0,1]},"axis":null},"y":{"datum":1.0382,"type":"quantitative","scale":{"domain":[0,1]},"axis":null},"text":{"value":"T"}}},
     {"mark":{"type":"text","align":"left","fontSize":14},"encoding":{"x":{"datum":0.1805,"type":"quantitative","scale":{"domain":[0,1]},"axis":null},"y":{"datum":1.066,"type":"quantitative","scale":{"domain":[0,1]},"axis":null},"text":{"field":"t2"}}},
     {"mark":{"type":"rect","fill":"white","stroke":"black","strokeWidth":1.5},"encoding":{"x":{"datum":0.8385,"type":"quantitative","scale":{"domain":[0,1]},"axis":null},"x2":{"datum":1.1036},"y":{"datum":1.1215,"type":"quantitative","scale":{"domain":[0,1]},"axis":null},"y2":{"datum":0.75}}},
     {"mark":{"type":"rule","color":"black","strokeWidth":1},"encoding":{"x":{"datum":0.8385,"type":"quantitative","scale":{"domain":[0,1]},"axis":null},"x2":{"datum":1.1036},"y":{"datum":1.0712,"type":"quantitative","scale":{"domain":[0,1]},"axis":null}}},
     {"mark":{"type":"text","align":"center","baseline":"middle","fontSize":12},"encoding":{"x":{"datum":0.9641,"type":"quantitative","scale":{"domain":[0,1]},"axis":null},"y":{"datum":1.1032,"type":"quantitative","scale":{"domain":[0,1]},"axis":null},"text":{"field":"p"}}},
     {"mark":{"type":"text","align":"left","baseline":"middle","fontSize":10.6,"lineBreak":"\n","lineHeight":15.4},"encoding":{"x":{"datum":0.8487,"type":"quantitative","scale":{"domain":[0,1]},"axis":null},"y":{"datum":1.0535,"type":"quantitative","scale":{"domain":[0,1]},"axis":null},"text":{"value":"Entries\nMean\nRMS\nUnderflow\nOverflow\nIntegral"}}},
     {"mark":{"type":"text","align":"right","baseline":"middle","fontSize":10.6,"lineBreak":"\n","lineHeight":15.4},"encoding":{"x":{"datum":1.0908,"type":"quantitative","scale":{"domain":[0,1]},"axis":null},"y":{"datum":1.0535,"type":"quantitative","scale":{"domain":[0,1]},"axis":null},"text":{"field":"v"}}},
     {"mark":{"type":"text","align":"right","fontSize":13.5},"encoding":{"x":{"datum":0.8744,"type":"quantitative","scale":{"domain":[0,1]},"axis":null},"y":{"datum":-0.1493,"type":"quantitative","scale":{"domain":[0,1]},"axis":null},"text":{"value":"skalare Summe p"}}},
     {"mark":{"type":"text","align":"center","fontSize":9},"encoding":{"x":{"datum":0.8846,"type":"quantitative","scale":{"domain":[0,1]},"axis":null},"y":{"datum":-0.1677,"type":"quantitative","scale":{"domain":[0,1]},"axis":null},"text":{"value":"T"}}},
     {"mark":{"type":"text","align":"right","fontSize":13.5},"encoding":{"x":{"datum":0.9974,"type":"quantitative","scale":{"domain":[0,1]},"axis":null},"y":{"datum":-0.1493,"type":"quantitative","scale":{"domain":[0,1]},"axis":null},"text":{"value":"[GeV]"}}}
    ]
   }
  ],
  "resolve":{"scale":{"x":"independent","y":"independent"}}
 }
]
}
